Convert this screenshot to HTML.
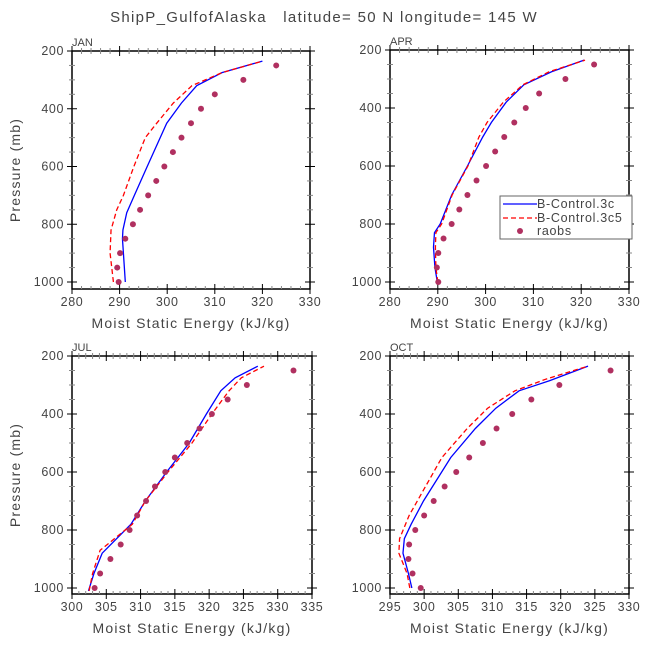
<!DOCTYPE html>
<html><head><meta charset="utf-8"><style>
html,body{margin:0;padding:0;background:#fff;}
svg{display:block;font-family:"Liberation Sans",sans-serif;}
text{white-space:pre;}
</style></head><body>
<svg id="chart" width="648" height="648" viewBox="0 0 648 648">
<text x="324" y="22" text-anchor="middle" font-size="15" letter-spacing="1.3" fill="#444">ShipP_GulfofAlaska   latitude= 50 N longitude= 145 W</text>
</svg>
<script>
const levels = [1000,950,900,850,800,750,700,650,600,550,500,450,400,350,300,250];
const panelNames = ["JAN","APR","JUL","OCT"];
const janBlueP = [1000,950,900,850,820,760,700,600,450,380,320,275,235];
const janBlueX = [291.2,291.0,290.8,290.6,290.7,291.5,293.1,295.8,299.9,303.0,306.2,311.5,320.0];
const janRedP = [1000,900,820,750,700,600,500,450,380,320,275,235];
const janRedX = [288.7,288.0,288.2,289.4,290.8,293.0,295.4,297.8,301.3,305.2,311.5,320.0];
const janObs = [289.8,289.5,290.1,291.2,292.8,294.3,296.0,297.7,299.4,301.2,303.0,305.0,307.1,310.0,316.0,322.9];
const aprBlueP = [1000,950,880,830,800,700,600,500,450,380,320,275,235];
const aprBlueX = [289.9,289.4,289.1,289.3,290.5,292.9,296.2,299.4,301.2,304.3,308.0,313.8,320.6];
const aprRedP = [1000,950,880,830,800,700,600,500,450,380,320,275,235];
const aprRedX = [290.0,289.6,289.5,289.6,290.8,293.0,296.3,298.6,300.3,303.7,307.8,313.3,320.8];
const aprObs = [290.1,289.8,290.1,291.2,292.9,294.5,296.2,298.1,300.1,302.0,303.9,306.0,308.4,311.2,316.7,322.7];
const julBlueP = [1010,950,880,780,700,600,500,400,320,275,235];
const julBlueX = [302.4,303.2,304.4,308.6,310.7,313.8,317.1,319.6,321.7,323.8,327.1];
const julRedP = [1010,950,870,780,700,600,500,400,320,275,235];
const julRedX = [302.5,303.0,304.1,308.8,310.7,314.0,317.5,320.4,322.9,324.7,328.0];
const julObs = [303.3,304.1,305.6,307.1,308.4,309.5,310.8,312.1,313.6,315.0,316.8,318.6,320.4,322.7,325.5,332.3];
const octBlueP = [1000,950,880,830,780,700,550,450,380,320,285,235];
const octBlueX = [298.2,297.7,296.9,297.1,298.1,299.9,303.9,307.5,310.5,313.9,318.4,324.0];
const octRedP = [1000,950,880,830,750,650,550,450,380,320,280,235];
const octRedX = [297.9,297.5,296.3,296.4,297.8,300.2,302.6,306.3,309.3,313.3,317.8,324.0];
const octObs = [299.5,298.3,297.7,297.8,298.7,300.0,301.4,303.0,304.7,306.6,308.6,310.6,312.9,315.7,319.8,327.3];
const janTicks = [280,290,300,310,320,330];
const aprTicks = [280,290,300,310,320,330];
const julTicks = [300,305,310,315,320,325,330,335];
const octTicks = [295,300,305,310,315,320,325,330];
const pTicks = [200,400,600,800,1000];

const NS="http://www.w3.org/2000/svg";
const svg=document.getElementById('chart');
function mk(tag,attrs,parent){const e=document.createElementNS(NS,tag);for(const k in attrs)e.setAttribute(k,attrs[k]);(parent||svg).appendChild(e);return e;}

const panels=[
 {name:panelNames[0],x0:72,x1:310,y0:51,yb:282,fb:289,ticks:janTicks,bp:janBlueP,bx:janBlueX,rp:janRedP,rx:janRedX,obs:janObs,ylab:true,legend:false},
 {name:panelNames[1],x0:390,x1:629,y0:50,yb:282,fb:289,ticks:aprTicks,bp:aprBlueP,bx:aprBlueX,rp:aprRedP,rx:aprRedX,obs:aprObs,ylab:false,legend:true},
 {name:panelNames[2],x0:72,x1:312,y0:356,yb:588,fb:594,ticks:julTicks,bp:julBlueP,bx:julBlueX,rp:julRedP,rx:julRedX,obs:julObs,ylab:true,legend:false},
 {name:panelNames[3],x0:390,x1:629,y0:356,yb:588,fb:594,ticks:octTicks,bp:octBlueP,bx:octBlueX,rp:octRedP,rx:octRedX,obs:octObs,ylab:false,legend:false}
];

panels.forEach(P=>{
 const g=mk('g',{});
 
 
 const xmin=P.ticks[0],xmax=P.ticks[P.ticks.length-1];
 const X=v=>P.x0+(v-xmin)/(xmax-xmin)*(P.x1-P.x0);
 const Y=p=>P.y0+(p-200)/800*(P.yb-P.y0);
 const frame=mk('rect',{x:P.x0,y:P.y0,width:P.x1-P.x0,height:P.fb-P.y0,fill:'none',stroke:'#000','stroke-width':1.5},g);
 
 
 const step=(P.ticks[1]-P.ticks[0]);
 const minorStep=step/5;
 for(let v=xmin;v<=xmax+1e-6;v+=minorStep){
   const isMaj=Math.abs((v-xmin)/step-Math.round((v-xmin)/step))<1e-6;
   const L=isMaj?5:3;
   mk('line',{x1:X(v),x2:X(v),y1:P.fb-L,y2:P.fb+(isMaj?L:0),stroke:isMaj?'#000':'#888','stroke-width':1},g);
   mk('line',{x1:X(v),x2:X(v),y1:P.y0-L,y2:P.y0+L,stroke:isMaj?'#000':'#888','stroke-width':1},g);
 }
 P.ticks.forEach(v=>{
   const t=mk('text',{x:X(v),y:P.fb+17,'text-anchor':'middle','font-size':12.5,'letter-spacing':0.6,fill:'#444'},g);
   t.textContent=v;
   
   
 });
 for(let p=200;p<=1000;p+=50){
   const isMaj=p%200===0;const L=isMaj?5:3;
   mk('line',{x1:P.x0-L,x2:P.x0+L,y1:Y(p),y2:Y(p),stroke:isMaj?'#000':'#888'},g);
   mk('line',{x1:P.x1-L,x2:P.x1+L,y1:Y(p),y2:Y(p),stroke:isMaj?'#000':'#888'},g);
 }
 pTicks.forEach(p=>{
   const t=mk('text',{x:P.x0-8,y:Y(p)+4,'text-anchor':'end','font-size':12.5,'letter-spacing':0.6,fill:'#444'},g);
   t.textContent=p;
   
   
 });
 const pl=mk('text',{x:P.x0,y:P.y0-5,'font-size':11,fill:'#444'},g);
 pl.textContent=P.name;
 
 
 const xt=mk('text',{x:(P.x0+P.x1)/2,y:P.fb+39,'text-anchor':'middle','font-size':14,'letter-spacing':1.2,fill:'#444'},g);
 xt.textContent='Moist Static Energy (kJ/kg)';
 
 
 if(P.ylab){
   const cy=(P.y0+P.fb)/2;
   const yt=mk('text',{x:20,y:cy,'text-anchor':'middle','font-size':14,'letter-spacing':1.2,fill:'#444',transform:'rotate(-90 20 '+cy+')'},g);
   yt.textContent='Pressure (mb)';
   
   
 }
 const bl=mk('polyline',{points:P.bp.map((p,i)=>X(P.bx[i])+','+Y(p)).join(' '),fill:'none',stroke:'#0000ff','stroke-width':1.3},g);
 
 
 const rl=mk('polyline',{points:P.rp.map((p,i)=>X(P.rx[i])+','+Y(p)).join(' '),fill:'none',stroke:'#ff0000','stroke-width':1.3,'stroke-dasharray':'5,3'},g);
 
 
 levels.forEach((p,i)=>{
   const c=mk('circle',{cx:X(P.obs[i]),cy:Y(p),r:3,fill:'#b03060'},g);
   
   
 });
 if(P.legend){
   const lg=mk('g',{},g);
   
   
   mk('rect',{x:500,y:196,width:132,height:43,fill:'#fff',stroke:'#666','stroke-width':1},lg);
   mk('line',{x1:503,x2:537,y1:204,y2:204,stroke:'#0000ff','stroke-width':1.3},lg);
   mk('line',{x1:503,x2:537,y1:218,y2:218,stroke:'#ff0000','stroke-width':1.3,'stroke-dasharray':'5,3'},lg);
   mk('circle',{cx:520,cy:231,r:3,fill:'#b03060'},lg);
   [['B-Control.3c',208],['B-Control.3c5',222],['raobs',235]].forEach(([s,y])=>{
     const t=mk('text',{x:537,y:y,'font-size':12.5,'letter-spacing':0.7,fill:'#444'},lg);
     t.textContent=s;
     
     
   });
 }
});
</script>
</body></html>
